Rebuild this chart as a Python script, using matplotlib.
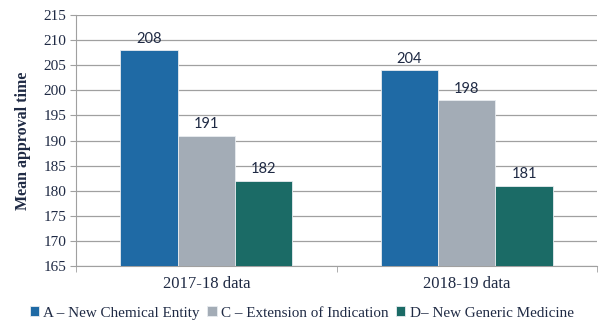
import numpy as np
import matplotlib.pyplot as plt

categories = ["2017-18 data", "2018-19 data"]
series_names = ["A – New Chemical Entity", "C – Extension of Indication", "D– New Generic Medicine"]
series_a = [208, 204]
series_c = [191, 198]
series_d = [182, 181]
colors = ["#1f6aa5", "#a3acb6", "#1b6b66"]

txt = "#1f2a44"
serif = ["Liberation Serif", "DejaVu Serif"]

fig = plt.figure(figsize=(6, 3.33), dpi=100)
ax = fig.add_axes([0.127, 0.201, 0.868, 0.754])

x = np.arange(len(categories))
w = 0.22
for i, (vals, name, c) in enumerate(zip([series_a, series_c, series_d], series_names, colors)):
    pos = x + (i - 1) * w
    bars = ax.bar(pos, vals, w, bottom=0, color=c, label=name, edgecolor="#e8ecf0", linewidth=0.6, zorder=3)
    for b, v in zip(bars, vals):
        ax.text(b.get_x() + b.get_width() / 2, v + 0.9, str(v), ha="center", va="bottom",
                fontsize=10.5, color=txt, family=["Lato", "DejaVu Sans"], zorder=4)

ax.set_ylim(165, 215)
ax.set_yticks(range(165, 216, 5))
ax.set_xlim(-0.5, 1.5)
ax.set_xticks(x)
ax.set_xticklabels(categories)
ax.set_xticks([-0.5, 0.5, 1.5], minor=True)
ax.tick_params(axis="x", which="major", length=0, pad=7)
ax.tick_params(axis="x", which="minor", length=4, color="#a0a0a0")
ax.tick_params(axis="y", length=4, color="#a0a0a0", pad=3)
for lab in ax.get_yticklabels():
    lab.set_family(serif)
    lab.set_fontsize(11)
    lab.set_color(txt)
for lab in ax.get_xticklabels():
    lab.set_family(serif)
    lab.set_fontsize(12)
    lab.set_color(txt)

ax.grid(axis="y", color="#a0a0a0", linewidth=0.9, zorder=0)
for s in ["top", "right"]:
    ax.spines[s].set_visible(False)
ax.spines["left"].set_color("#a0a0a0")
ax.spines["bottom"].set_color("#a0a0a0")

ax.set_ylabel("Mean approval time", family=serif, fontsize=11.5, fontweight="bold", color=txt, labelpad=9)

handles, labels = ax.get_legend_handles_labels()
leg = fig.legend(handles, labels, loc="center", bbox_to_anchor=(0.503, 0.06), ncol=3, frameon=False,
                 prop={"family": serif, "size": 10.9}, handlelength=0.6, handleheight=0.6,
                 handletextpad=0.3, columnspacing=0.5)
for t in leg.get_texts():
    t.set_color(txt)

fig.savefig("out.png", dpi=100)
